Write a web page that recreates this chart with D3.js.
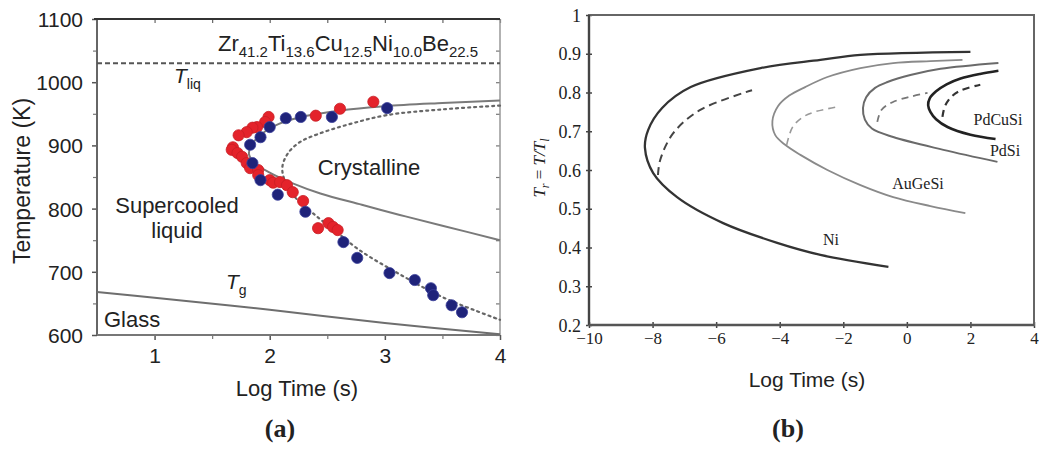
<!DOCTYPE html>
<html>
<head>
<meta charset="utf-8">
<script src="https://cdn.jsdelivr.net/npm/d3@7"></script>
<style>
  html, body { margin: 0; padding: 0; background: #fff; }
  svg { display: block; }
  .sans { font-family: "Liberation Sans", Arial, sans-serif; fill: #222; }
  .serif { font-family: "Liberation Serif", "Times New Roman", serif; fill: #222; }
</style>
</head>
<body>
<svg id="chart" width="1046" height="453"></svg>
<script>
// ---------- Panel (a): TTT diagram of Zr41.2Ti13.6Cu12.5Ni10.0Be22.5 ----------
const tempTicks = [600, 700, 800, 900, 1000, 1100];
const tempMinorTicks = [650, 750, 850, 950, 1050];
const logTimeTicksA = [1, 2, 3, 4];
const logTimeMinorA = [1.5, 2.5, 3.5];
const liquidusTemp = 1030;

// measured onset points [log t, T]
const redPoints = [
  [1.99, 945], [1.96, 937], [1.89, 929], [1.85, 928], [1.80, 921], [1.73, 916],
  [1.68, 897], [1.67, 893], [1.72, 888], [1.76, 882], [1.80, 872], [1.83, 864],
  [1.90, 861], [1.90, 853], [2.00, 845], [2.03, 841], [2.09, 842], [2.15, 837],
  [2.20, 826], [2.29, 812], [2.40, 947], [2.61, 958], [2.90, 969],
  [2.42, 769], [2.51, 777], [2.55, 771], [2.59, 766]
];
const bluePoints = [
  [2.14, 943], [2.27, 945], [2.54, 945], [3.02, 959], [2.00, 929], [1.92, 913],
  [1.83, 901], [1.85, 872], [1.92, 845], [2.07, 822], [2.31, 795], [2.64, 747],
  [2.76, 722], [3.04, 698], [3.26, 687], [3.40, 674], [3.42, 663], [3.58, 647],
  [3.67, 636]
];
// crystallisation onset envelope (solid) and fitted curve (dotted)
const onsetCurve = [
  [4.0, 971], [3.5, 967], [3.0, 962], [2.6, 955], [2.3, 946], [2.08, 934],
  [1.93, 918], [1.84, 900], [1.82, 886], [1.87, 872], [2.0, 857], [2.2, 840],
  [2.44, 824], [2.8, 806], [3.13, 790], [3.5, 773], [4.0, 750]
];
const fitCurve = [
  [4.0, 963], [3.5, 957], [3.02, 948], [2.7, 934], [2.42, 918], [2.26, 905],
  [2.16, 888], [2.11, 866], [2.13, 845], [2.22, 818], [2.38, 792], [2.6, 760],
  [2.79, 733], [3.13, 696], [3.5, 660], [4.0, 624]
];
const glassLine = [[0.5, 668], [1, 659], [2, 640], [3, 619], [4, 601]];

// ---------- Panel (b): reduced-temperature TTT curves ----------
const trTicks = [0.2, 0.3, 0.4, 0.5, 0.6, 0.7, 0.8, 0.9, 1];
const logTimeTicksB = [-10, -8, -6, -4, -2, 0, 2, 4];

const niSolid = [
  [2.0, 0.905], [-1.46, 0.897], [-2.72, 0.884], [-4.6, 0.863], [-6.8, 0.814],
  [-7.7, 0.76], [-8.14, 0.703], [-8.24, 0.657], [-7.98, 0.592], [-7.23, 0.53],
  [-5.78, 0.463], [-4.08, 0.412], [-2.72, 0.381], [-0.58, 0.35]
];
const niDashed = [[-7.83, 0.587], [-7.76, 0.626], [-7.35, 0.695], [-6.5, 0.755], [-4.87, 0.806]];
const auGeSiSolid = [
  [1.75, 0.884], [0.74, 0.881], [-0.43, 0.876], [-1.46, 0.863], [-2.5, 0.84],
  [-3.2, 0.814], [-3.7, 0.792], [-4.05, 0.765], [-4.23, 0.726], [-4.14, 0.69],
  [-3.83, 0.665], [-3.35, 0.639], [-2.5, 0.6], [-1.46, 0.561], [-0.43, 0.53],
  [0.74, 0.507], [1.84, 0.489]
];
const auGeSiDashed = [[-3.78, 0.665], [-3.6, 0.71], [-3.3, 0.735], [-2.9, 0.75], [-2.1, 0.764]];
const pdSiSolid = [
  [2.88, 0.876], [1.06, 0.861], [0.11, 0.845], [-0.61, 0.827], [-1.0, 0.812],
  [-1.28, 0.788], [-1.38, 0.76], [-1.32, 0.73], [-1.1, 0.707], [-0.43, 0.685],
  [1.15, 0.652], [2.85, 0.621]
];
const pdSiDashed = [[-0.93, 0.724], [-0.8, 0.755], [-0.45, 0.775], [0.1, 0.789], [0.65, 0.799]];
const pdCuSiSolid = [
  [2.88, 0.856], [2.3, 0.848], [1.69, 0.836], [1.25, 0.821], [0.92, 0.803],
  [0.72, 0.785], [0.67, 0.767], [0.74, 0.75], [0.92, 0.731], [1.28, 0.711],
  [2.0, 0.691], [2.79, 0.68]
];
const pdCuSiDashed = [[1.12, 0.737], [1.2, 0.765], [1.4, 0.789], [1.69, 0.805], [2.31, 0.82]];

const svg = d3.select("#chart");

// ====================== panel (a) ======================
const xa = d3.scaleLinear().domain([0.5, 4]).range([97, 500]);
const ya = d3.scaleLinear().domain([600, 1100]).range([335, 19]);
const ga = svg.append("g");

const lineA = d3.line().x(d => xa(d[0])).y(d => ya(d[1])).curve(d3.curveCatmullRom.alpha(0.5));

function styleAxis(sel, color, width) {
  sel.select(".domain").remove();
  sel.selectAll(".tick line").attr("stroke", color).attr("stroke-width", width);
}
ga.append("g").attr("transform", `translate(${xa(0.5)},0)`)
  .call(d3.axisLeft(ya).tickValues(tempTicks).tickSize(5).tickPadding(9).tickFormat(d3.format("d")))
  .call(s => styleAxis(s, "#555", 1.5))
  .call(s => s.selectAll("text").attr("class", "sans").style("font-size", "21px").attr("dy", "0.36em"));
ga.append("g").attr("transform", `translate(${xa(0.5)},0)`)
  .call(d3.axisLeft(ya).tickValues(tempMinorTicks).tickSize(4).tickFormat(""))
  .call(s => styleAxis(s, "#777", 1.2));
ga.append("g").attr("transform", `translate(${xa(4)},0)`)
  .call(d3.axisLeft(ya).tickValues(tempTicks.concat(tempMinorTicks)).tickSize(4).tickFormat(""))
  .call(s => styleAxis(s, "#777", 1.2));
ga.append("g").attr("transform", `translate(0,${ya(600)})`)
  .call(d3.axisBottom(xa).tickValues(logTimeTicksA).tickSize(5).tickPadding(8).tickFormat(d3.format("d")))
  .call(s => styleAxis(s, "#555", 1.5))
  .call(s => s.selectAll("text").attr("class", "sans").style("font-size", "21px"));
ga.append("g").attr("transform", `translate(0,${ya(600)})`)
  .call(d3.axisBottom(xa).tickValues(logTimeMinorA).tickSize(4).tickFormat(""))
  .call(s => styleAxis(s, "#777", 1.2));
ga.append("g").attr("transform", `translate(0,${ya(1100)})`)
  .call(d3.axisBottom(xa).tickValues(logTimeTicksA.concat(logTimeMinorA)).tickSize(4).tickFormat(""))
  .call(s => styleAxis(s, "#666", 1.2));

// frame
ga.append("line").attr("x1", xa(0.5)).attr("x2", xa(0.5)).attr("y1", ya(600)).attr("y2", ya(1100))
  .attr("stroke", "#666").attr("stroke-width", 2);
ga.append("line").attr("x1", xa(4)).attr("x2", xa(4)).attr("y1", ya(600)).attr("y2", ya(1100))
  .attr("stroke", "#999").attr("stroke-width", 1.5);
ga.append("line").attr("x1", xa(0.5) - 3).attr("x2", xa(4)).attr("y1", ya(1100)).attr("y2", ya(1100))
  .attr("stroke", "#333").attr("stroke-width", 2.2);
ga.append("line").attr("x1", xa(0.5)).attr("x2", xa(4)).attr("y1", ya(600)).attr("y2", ya(600))
  .attr("stroke", "#777").attr("stroke-width", 2.2);

// liquidus
ga.append("line").attr("x1", xa(0.5)).attr("x2", xa(4))
  .attr("y1", ya(liquidusTemp)).attr("y2", ya(liquidusTemp))
  .attr("stroke", "#555").attr("stroke-width", 2).attr("stroke-dasharray", "5,3");

// curves
ga.append("path").datum(glassLine).attr("d", lineA)
  .attr("fill", "none").attr("stroke", "#6e6e6e").attr("stroke-width", 2);
ga.append("path").datum(onsetCurve).attr("d", lineA)
  .attr("fill", "none").attr("stroke", "#7a7a7a").attr("stroke-width", 2);
ga.append("path").datum(fitCurve).attr("d", lineA)
  .attr("fill", "none").attr("stroke", "#666").attr("stroke-width", 2.2)
  .attr("stroke-dasharray", "2,4").attr("stroke-linecap", "round");

// measured points
ga.append("g").selectAll("circle").data(redPoints).join("circle")
  .attr("cx", d => xa(d[0])).attr("cy", d => ya(d[1])).attr("r", 5.6)
  .attr("fill", "#e4232b").attr("stroke", "#c81e25").attr("stroke-width", 0.8);
ga.append("g").selectAll("circle").data(bluePoints).join("circle")
  .attr("cx", d => xa(d[0])).attr("cy", d => ya(d[1])).attr("r", 5.6)
  .attr("fill", "#1f237a").attr("stroke", "#3a3f9a").attr("stroke-width", 0.8);

// labels
const title = ga.append("text").attr("class", "sans").attr("x", 218).attr("y", 51).style("font-size", "22px");
[["Zr", "41.2"], ["Ti", "13.6"], ["Cu", "12.5"], ["Ni", "10.0"], ["Be", "22.5"]].forEach(([el, sub], i) => {
  title.append("tspan").attr("dy", i === 0 ? 0 : -6).text(el);
  title.append("tspan").attr("dy", 6).style("font-size", "15px").text(sub);
});
const tliq = ga.append("text").attr("class", "sans").attr("x", 174).attr("y", 83).style("font-size", "21px");
tliq.append("tspan").style("font-style", "italic").text("T");
tliq.append("tspan").attr("dy", 6).style("font-size", "14px").text("liq");
const tg = ga.append("text").attr("class", "sans").attr("x", 226).attr("y", 289).style("font-size", "21px");
tg.append("tspan").style("font-style", "italic").text("T");
tg.append("tspan").attr("dy", 6).style("font-size", "14px").text("g");

ga.append("text").attr("class", "sans").attr("x", 177).attr("y", 213).attr("text-anchor", "middle")
  .style("font-size", "22px").text("Supercooled");
ga.append("text").attr("class", "sans").attr("x", 177).attr("y", 238).attr("text-anchor", "middle")
  .style("font-size", "22px").text("liquid");
ga.append("text").attr("class", "sans").attr("x", 369).attr("y", 175).attr("text-anchor", "middle")
  .style("font-size", "22px").text("Crystalline");
ga.append("text").attr("class", "sans").attr("x", 104).attr("y", 327)
  .style("font-size", "22px").text("Glass");

ga.append("text").attr("class", "sans").attr("x", 297).attr("y", 396).attr("text-anchor", "middle")
  .style("font-size", "22px").text("Log Time (s)");
ga.append("text").attr("class", "sans").attr("transform", "translate(30,181) rotate(-90)")
  .attr("text-anchor", "middle").style("font-size", "23px").text("Temperature (K)");
ga.append("text").attr("class", "serif").attr("x", 280).attr("y", 437).attr("text-anchor", "middle")
  .style("font-size", "26px").style("font-weight", "bold").text("(a)");

// ====================== panel (b) ======================
const xb = d3.scaleLinear().domain([-10, 4]).range([589, 1034]);
const yb = d3.scaleLinear().domain([0.2, 1]).range([325, 15]);
const gb = svg.append("g");
const lineB = d3.line().x(d => xb(d[0])).y(d => yb(d[1])).curve(d3.curveCatmullRom.alpha(0.5));

gb.append("g").attr("transform", `translate(${xb(-10)},0)`)
  .call(d3.axisLeft(yb).tickValues(trTicks).tickSizeInner(4).tickSizeOuter(0).tickPadding(4)
    .tickFormat(d => d === 1 ? "1" : d3.format(".1f")(d)))
  .call(s => styleAxis(s, "#444", 1.5))
  .call(s => s.selectAll(".tick line").attr("x2", 3).attr("x1", -3))
  .call(s => s.selectAll("text").attr("class", "serif").style("font-size", "18px").attr("dy", "0.34em"));
gb.append("g").attr("transform", `translate(0,${yb(0.2)})`)
  .call(d3.axisBottom(xb).tickValues(logTimeTicksB).tickSizeInner(4).tickSizeOuter(0).tickPadding(3)
    .tickFormat(d => d < 0 ? "\u2212" + Math.abs(d) : String(d)))
  .call(s => styleAxis(s, "#444", 1.5))
  .call(s => s.selectAll(".tick line").attr("y1", -3).attr("y2", 3))
  .call(s => s.selectAll("text").attr("class", "serif").style("font-size", "17px"));

gb.append("rect").attr("x", xb(-10)).attr("y", yb(1)).attr("width", xb(4) - xb(-10)).attr("height", yb(0.2) - yb(1))
  .attr("fill", "none").attr("stroke", "#666").attr("stroke-width", 2);
gb.append("line").attr("x1", xb(-10)).attr("x2", xb(-10)).attr("y1", yb(0.2)).attr("y2", yb(1))
  .attr("stroke", "#444").attr("stroke-width", 2.4);
gb.append("line").attr("x1", xb(-10)).attr("x2", xb(4)).attr("y1", yb(0.2)).attr("y2", yb(0.2))
  .attr("stroke", "#555").attr("stroke-width", 2.6);

const curvesB = [
  { data: niSolid, color: "#333", width: 2.3, dash: null },
  { data: niDashed, color: "#444", width: 2, dash: "8,5" },
  { data: auGeSiSolid, color: "#8a8a8a", width: 1.8, dash: null },
  { data: auGeSiDashed, color: "#999", width: 1.6, dash: "7,5" },
  { data: pdSiSolid, color: "#6a6a6a", width: 2, dash: null },
  { data: pdSiDashed, color: "#777", width: 1.8, dash: "7,5" },
  { data: pdCuSiSolid, color: "#222", width: 2.6, dash: null },
  { data: pdCuSiDashed, color: "#333", width: 2.2, dash: "7,5" }
];
gb.append("g").selectAll("path").data(curvesB).join("path")
  .attr("d", c => lineB(c.data)).attr("fill", "none")
  .attr("stroke", c => c.color).attr("stroke-width", c => c.width)
  .attr("stroke-dasharray", c => c.dash);

[["Ni", 831, 245], ["AuGeSi", 918, 189], ["PdSi", 1005, 156], ["PdCuSi", 998, 125]].forEach(([t, x, y]) => {
  gb.append("text").attr("class", "serif").attr("x", x).attr("y", y).attr("text-anchor", "middle")
    .style("font-size", "16px").text(t);
});

const yLabB = gb.append("text").attr("class", "serif").attr("transform", "translate(545,168) rotate(-90)")
  .attr("text-anchor", "middle").style("font-size", "17px").style("font-style", "italic");
yLabB.append("tspan").text("T");
yLabB.append("tspan").attr("dy", 4).style("font-size", "12px").text("r");
yLabB.append("tspan").attr("dy", -4).style("font-style", "normal").text(" = ");
yLabB.append("tspan").text("T/T");
yLabB.append("tspan").attr("dy", 4).style("font-size", "12px").text("l");

gb.append("text").attr("class", "sans").attr("x", 807).attr("y", 387).attr("text-anchor", "middle")
  .style("font-size", "21px").text("Log Time (s)");
gb.append("text").attr("class", "serif").attr("x", 788).attr("y", 437).attr("text-anchor", "middle")
  .style("font-size", "26px").style("font-weight", "bold").text("(b)");
</script>
</body>
</html>
